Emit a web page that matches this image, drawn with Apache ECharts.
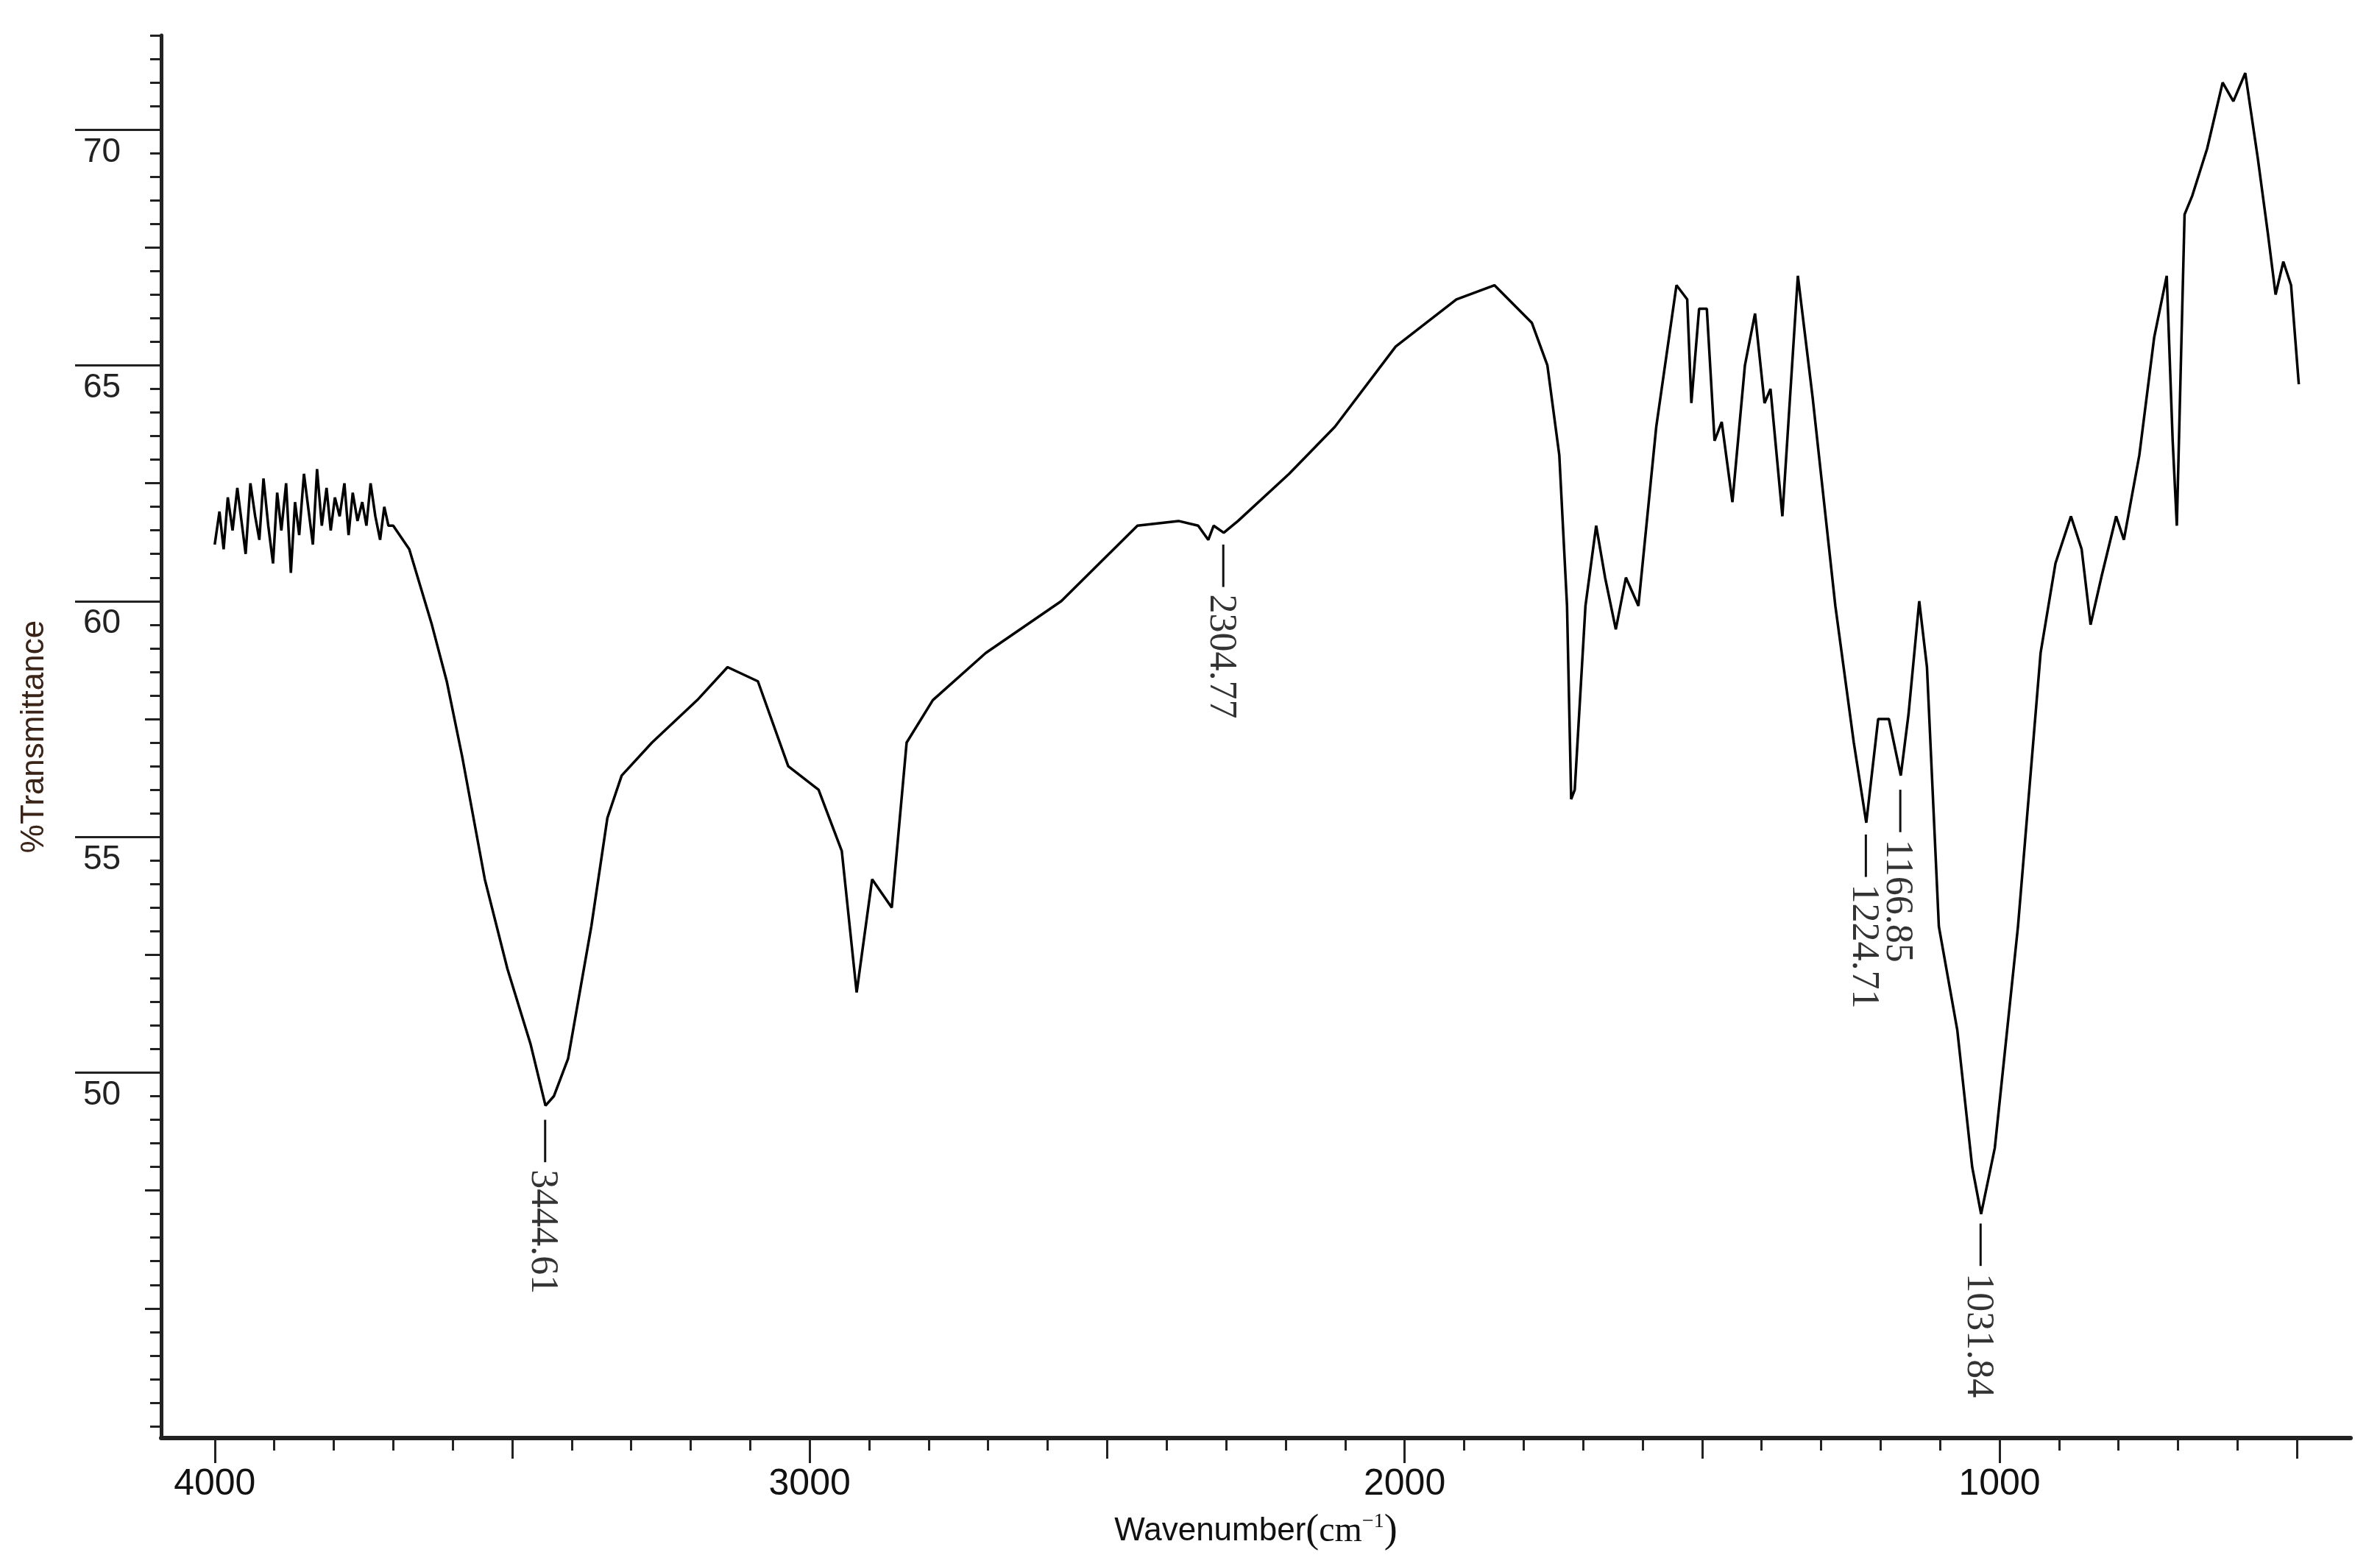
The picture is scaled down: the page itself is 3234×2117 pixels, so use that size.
<!DOCTYPE html>
<html><head><meta charset="utf-8">
<script src="https://cdn.jsdelivr.net/npm/echarts@6/dist/echarts.min.js"></script>
<style>html,body{margin:0;padding:0;background:#fff}#c{width:3234px;height:2117px}</style>
</head><body><div id="c"></div>
<script>
const wavenumber = [4000,3992,3985,3978,3970,3962,3955,3948,3940,3932,3925,3918,3910,3902,3895,3888,3880,3872,3865,3858,3850,3842,3835,3828,3820,3812,3805,3798,3790,3782,3775,3768,3760,3752,3745,3738,3730,3722,3715,3708,3700,
3673,3635,3610,3584,3546,3508,3469,3444,3430,3406,3367,3340,3316,3265,3189,3138,3087,3036,2985,2946,2921,2895,2862,2837,2793,2704,2577,2449,2380,2347,2330,2321,2304,2280,2194,2117,2015,1913,1849,1786,1760,1740,1727,1720,1714,1696,1678,1663,1645,1628,1607,1577,1543,1525,1518,1505,1492,1479,1467,1449,1428,1411,1395,1385,1365,1339,1314,1276,1245,1224,1204,1186,1166,1153,1135,1122,1102,1071,1046,1031,1008,969,931,906,880,862,847,829,804,791,765,740,719,709,702,689,676,651,625,607,587,566,549,536,523,510,497];
const transmittance = [61.2,61.9,61.1,62.2,61.5,62.4,61.7,61.0,62.5,61.8,61.3,62.6,61.6,60.8,62.3,61.5,62.5,60.6,62.1,61.4,62.7,61.9,61.2,62.8,61.6,62.4,61.5,62.2,61.8,62.5,61.4,62.3,61.7,62.1,61.6,62.5,61.8,61.3,62.0,61.6,61.6,
61.1,59.5,58.3,56.7,54.1,52.2,50.6,49.3,49.5,50.3,53.1,55.4,56.3,57.0,57.9,58.6,58.3,56.5,56.0,54.7,51.7,54.1,53.5,57.0,57.9,58.9,60.0,61.6,61.7,61.6,61.3,61.6,61.45,61.7,62.7,63.7,65.4,66.4,66.7,65.9,65.0,63.1,59.9,55.8,56.0,59.9,61.6,60.5,59.4,60.5,59.9,63.7,66.7,66.4,64.2,66.2,66.2,63.4,63.8,62.1,65.0,66.1,64.2,64.5,61.8,66.9,64.3,59.9,57.0,55.3,57.5,57.5,56.3,57.6,60.0,58.6,53.1,50.9,48.0,47.0,48.4,53.1,58.9,60.8,61.8,61.1,59.5,60.5,61.8,61.3,63.1,65.6,66.9,63.4,61.6,68.2,68.6,69.6,71.0,70.6,71.2,69.4,67.8,66.5,67.2,66.7,64.6];
const peakWavenumber = [3444.61,2304.77,1224.71,1166.85,1031.84];
const peakStart = [49.0,61.2,55.05,56.0,46.8];
const peakLabel = ['3444.61','2304.77','1224.71','1166.85','1031.84'];
const yLabels = [50,55,60,65,70];
const xLabels = [1000,2000,3000,4000];

const data = wavenumber.map((w,i)=>[w,transmittance[i]]);
const range=(a,b,s)=>{const r=[];for(let v=a;v<=b+1e-9;v+=s)r.push(+v.toFixed(2));return r;};
const serif = 'Liberation Serif';
const chart = echarts.init(document.getElementById('c'));
const xBase = {type:'value',min:410,max:4090,inverse:true,position:'bottom',splitLine:{show:false}};
const yBase = {type:'value',min:42.25,max:72,position:'left',splitLine:{show:false}};
const tk = {color:'#222',width:3};
chart.setOption({
  animation:false,
  grid:{left:219,right:40,top:48,bottom:163},
  xAxis:[
    Object.assign({},xBase,{axisLine:{lineStyle:{color:'#222',width:6}},
      axisTick:{customValues:xLabels,length:34,lineStyle:tk},
      axisLabel:{customValues:xLabels,formatter:v=>String(v),margin:38,fontSize:50,fontFamily:'Liberation Sans',color:'#111'},
      name:'Wavenumber{p|(}{q|cm}{s|−1}{p|)}',nameLocation:'middle',nameGap:100,
      nameTextStyle:{fontSize:44,fontFamily:'Liberation Sans',color:'#111',rich:{p:{fontSize:54,fontFamily:serif},q:{fontSize:48,fontFamily:serif},s:{fontSize:28,fontFamily:serif,verticalAlign:'top',padding:[0,0,24,0]}}}}),
    Object.assign({},xBase,{axisLine:{show:false},axisLabel:{show:false},axisTick:{customValues:range(500,4000,500),length:28,lineStyle:tk}}),
    Object.assign({},xBase,{axisLine:{show:false},axisLabel:{show:false},axisTick:{customValues:range(500,4000,100),length:17,lineStyle:tk}})
  ],
  yAxis:[
    Object.assign({},yBase,{axisLine:{show:true,lineStyle:{color:'#222',width:5}},
      axisTick:{show:true,customValues:yLabels,length:117,lineStyle:tk},
      axisLabel:{customValues:yLabels,margin:106,align:'left',verticalAlign:'top',fontSize:46,fontFamily:'Liberation Sans',color:'#222',padding:[8,0,0,0]},
      name:'%Transmittance',nameLocation:'middle',nameGap:150,nameRotate:90,nameTextStyle:{fontSize:44,fontFamily:'Liberation Sans',color:'#3a2418'}}),
    Object.assign({},yBase,{axisLine:{show:false},axisLabel:{show:false},axisTick:{show:true,customValues:range(45,72,2.5),length:22,lineStyle:tk}}),
    Object.assign({},yBase,{axisLine:{show:false},axisLabel:{show:false},axisTick:{show:true,customValues:range(42.5,72,0.5),length:15,lineStyle:tk}})
  ],
  series:[
    {type:'line',data:data,showSymbol:false,lineStyle:{color:'#000',width:3.5},z:3},
    {type:'custom',data:peakWavenumber.map((w,i)=>[w,peakStart[i]]),renderItem:(p,api)=>{
      const a=api.coord([api.value(0),api.value(1)]);
      const b=api.coord([api.value(0),api.value(1)-0.9]);
      return {type:'line',shape:{x1:a[0],y1:a[1],x2:b[0],y2:b[1]},style:{stroke:'#111',lineWidth:3}};
    },z:4},
    {type:'scatter',symbolSize:0,silent:true,z:4,
     data:peakWavenumber.map((w,i)=>({value:[w,peakStart[i]-0.9],name:peakLabel[i]})),
     label:{show:true,position:'bottom',distance:0,rotate:-90,align:'left',verticalAlign:'middle',offset:[10,4],
       formatter:p=>p.name,fontSize:52,fontFamily:serif,color:'#000'}}
  ]
});
</script></body></html>
